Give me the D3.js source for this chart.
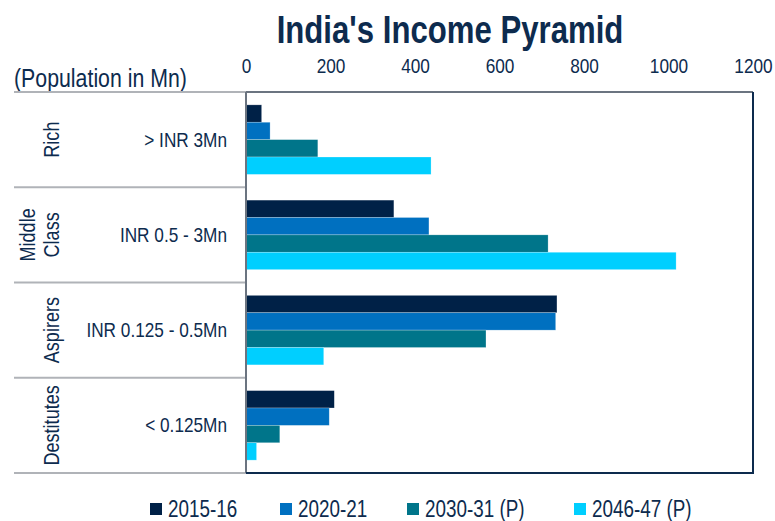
<!DOCTYPE html>
<html>
<head>
<meta charset="utf-8">
<script src="https://cdn.jsdelivr.net/npm/d3@7"></script>
<style>
  body { margin: 0; background: #fff; }
  text { font-family: "Liberation Sans", Arial, sans-serif; fill: #0d2b4e; }
</style>
</head>
<body>
<svg id="chart"></svg>
<script>
// data
const groups = ["Rich", "Middle Class", "Aspirers", "Destitutes"];
const incomeBands = ["> INR 3Mn", "INR 0.5 - 3Mn", "INR 0.125 - 0.5Mn", "< 0.125Mn"];
const years = ["2015-16", "2020-21", "2030-31 (P)", "2046-47 (P)"];
const colors = ["#002147", "#0070c0", "#00758a", "#00cfff"];
const richVals = [37, 57, 170, 438];
const middleVals = [350, 433, 715, 1018];
const aspirerVals = [736, 733, 568, 184];
const destituteVals = [209, 197, 80, 25];
const xTicks = [0, 200, 400, 600, 800, 1000, 1200];

const values = [richVals, middleVals, aspirerVals, destituteVals];

const width = 775;
const height = 521;
const margin = { top: 92, right: 22, bottom: 48, left: 246 };
const narrow = 0.82; // no narrow font installed, squeeze horizontally

const svg = d3.select("#chart")
    .attr("width", width)
    .attr("height", height);

// helper: condensed text placed at x,y
function narrowText(parent, x, y, str, size, anchor, extra) {
    return parent.append("text")
        .attr("transform", `translate(${x},${y}) ${extra || ""} scale(${narrow},1)`)
        .attr("text-anchor", anchor || "start")
        .style("font-size", size + "px")
        .text(str);
}

// scales
const x = d3.scaleLinear()
    .domain([0, 1200])
    .range([margin.left, width - margin.right]);

const y = d3.scaleBand()
    .domain(groups)
    .range([margin.top, height - margin.bottom]);

const yInner = d3.scaleBand()
    .domain(years)
    .range([0, y.bandwidth()])
    .paddingOuter(0.74);

// title
narrowText(svg, 450, 43, "India's Income Pyramid", 38, "middle")
    .style("font-weight", "bold");

narrowText(svg, 14, 87, "(Population in Mn)", 26, "start");

// top axis
const xAxis = svg.append("g")
    .attr("transform", `translate(0,${margin.top - 19})`)
    .call(d3.axisTop(x).tickValues(xTicks).tickFormat(d3.format("d")).tickSize(0).tickPadding(0));
xAxis.select(".domain").remove();
xAxis.selectAll(".tick text")
    .style("font-size", "21px")
    .attr("fill", "#0d2b4e")
    .attr("text-anchor", "middle")
    .attr("transform", `scale(${narrow},1)`)
    .attr("x", 0);

// left separator lines
const sepYs = [margin.top].concat(groups.map(g => y(g) + y.bandwidth()));
svg.selectAll(".sep")
    .data(sepYs)
    .enter().append("line")
    .attr("class", "sep")
    .attr("x1", 14)
    .attr("x2", margin.left)
    .attr("y1", d => d)
    .attr("y2", d => d)
    .attr("stroke", "#b0b3b8")
    .attr("stroke-width", 2);

// group labels (rotated)
groups.forEach(g => {
    const cy = y(g) + y.bandwidth() / 2;
    if (g === "Middle Class") {
        narrowText(svg, 35, cy, "Middle", 22, "middle", "rotate(-90)");
        narrowText(svg, 59, cy, "Class", 22, "middle", "rotate(-90)");
    } else {
        narrowText(svg, 59, cy, g, 22, "middle", "rotate(-90)");
    }
});

// income band labels
groups.forEach((g, i) => {
    narrowText(svg, 227, y(g) + y.bandwidth() / 2 + 7, incomeBands[i], 21, "end");
});

// bars
const barGroups = svg.selectAll(".bars")
    .data(groups)
    .enter().append("g")
    .attr("class", "bars")
    .attr("transform", d => `translate(0,${y(d)})`);

barGroups.selectAll("rect")
    .data((d, i) => years.map((yr, j) => ({ year: yr, value: values[i][j], idx: j })))
    .enter().append("rect")
    .attr("x", x(0))
    .attr("y", d => yInner(d.year))
    .attr("width", d => x(d.value) - x(0))
    .attr("height", yInner.bandwidth())
    .attr("fill", d => colors[d.idx])
    .attr("stroke", "#ffffff")
    .attr("stroke-opacity", 0.4)
    .attr("stroke-width", 0.6);

// plot frame
const plotTop = margin.top, plotBottom = height - margin.bottom;
svg.append("line")
    .attr("x1", x(0)).attr("x2", x(1200))
    .attr("y1", plotTop).attr("y2", plotTop)
    .attr("stroke", "#6b7480").attr("stroke-width", 2);
svg.append("line")
    .attr("x1", x(0)).attr("x2", x(0))
    .attr("y1", plotTop).attr("y2", plotBottom)
    .attr("stroke", "#6b7480").attr("stroke-width", 2);
svg.append("line")
    .attr("x1", x(1200)).attr("x2", x(1200))
    .attr("y1", plotTop).attr("y2", plotBottom + 1)
    .attr("stroke", "#0d2b4e").attr("stroke-width", 2);
svg.append("line")
    .attr("x1", x(0)).attr("x2", x(1200))
    .attr("y1", plotBottom).attr("y2", plotBottom)
    .attr("stroke", "#0d2b4e").attr("stroke-width", 2);

// legend
const legendX = [150, 280, 407, 574];
const legend = svg.selectAll(".legend")
    .data(years)
    .enter().append("g")
    .attr("class", "legend")
    .attr("transform", (d, i) => `translate(${legendX[i]},503)`);

legend.append("rect")
    .attr("width", 12)
    .attr("height", 12)
    .attr("fill", (d, i) => colors[i]);

legend.each(function (d) {
    narrowText(d3.select(this), 18, 14, d, 23, "start");
});
</script>
</body>
</html>
